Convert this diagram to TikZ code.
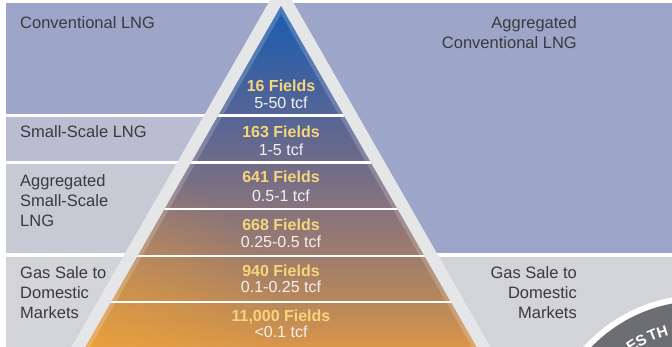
\documentclass[tikz,border=0pt]{standalone}
\usepackage{fontspec}
\setmainfont{Liberation Sans}
\usetikzlibrary{calc,fadings}
\definecolor{peri}{HTML}{9DA6C8}
\definecolor{sslng}{HTML}{B9BDD1}
\definecolor{aggss}{HTML}{C7C9D4}
\definecolor{gassale}{HTML}{D3D4D7}
\definecolor{band}{HTML}{E5E6E8}
\definecolor{labeltxt}{HTML}{3A3A3E}
\definecolor{fieldyel}{HTML}{F6D67A}
\definecolor{tcfwhite}{HTML}{F2F2F2}
\definecolor{disc}{HTML}{6D6E71}
\definecolor{glow}{HTML}{F5A834}
\definecolor{pc0}{HTML}{D8964A}
\definecolor{pc1}{HTML}{C48C55}
\definecolor{pc2}{HTML}{AC8262}
\definecolor{pc3}{HTML}{967973}
\definecolor{pc4}{HTML}{827280}
\definecolor{pc5}{HTML}{706C88}
\definecolor{pc6}{HTML}{5C6791}
\definecolor{pc7}{HTML}{48629B}
\definecolor{pc8}{HTML}{2A5FA8}
\definecolor{pc9}{HTML}{1D5DAC}
\pgfdeclareverticalshading{pyrshade}{100bp}{color(0bp)=(pc0); color(25bp)=(pc0); color(29bp)=(pc1); color(34.8bp)=(pc2); color(40.7bp)=(pc3); color(46.6bp)=(pc4); color(51.7bp)=(pc5); color(56.8bp)=(pc6); color(62.7bp)=(pc7); color(70bp)=(pc8); color(75bp)=(pc9); color(100bp)=(pc9)}
\tikzfading[name=glowfade, inner color=transparent!0, outer color=transparent!100]
\begin{document}
\begin{tikzpicture}[x=1pt,y=1pt,
  lbl/.style={text=labeltxt,inner sep=0pt,font=\fontsize{16.5}{20}\selectfont},
  cnt/.style={text=fieldyel,inner sep=0pt,anchor=base,font=\fontsize{16}{17}\selectfont\bfseries},
  rng/.style={text=tcfwhite,inner sep=0pt,anchor=base,font=\fontsize{16}{17}\selectfont},
  tierline/.style={white,line width=2.2pt},
  discletter/.style={text=white,inner sep=0pt,font=\fontsize{15}{15}\selectfont\bfseries}]
\useasboundingbox (0,0) rectangle (672,347);
\clip (0,0) rectangle (672,347);
\fill[white] (0,0) rectangle (672,347);
% left panels
\fill[peri] (6,232.7) rectangle (281,343.5);
\fill[sslng] (6,185.8) rectangle (281,230.3);
\fill[aggss] (6,93.7) rectangle (281,183);
\fill[gassale] (6,0) rectangle (281,90);
% right panels
\fill[peri] (281,93.7) rectangle (672,343.5);
\fill[gassale] (281,0) rectangle (672,90);
% band
\fill[band] (281,366) -- (71.5,0) -- (490.5,0) -- cycle;
% pyramid
\shade[shading=pyrshade] (281,341) -- (85.5,0) -- (476.5,0) -- cycle;
\begin{scope}
\clip (281,341) -- (85.5,0) -- (476.5,0) -- cycle;
\fill[glow,fill opacity=0.6,path fading=glowfade] (-110,-210) rectangle (290,190);
\end{scope}
\fill[white,opacity=0.18,even odd rule] (281,341) -- (85.5,0) -- (476.5,0) -- cycle (281,333) -- (90.1,0) -- (471.9,0) -- cycle;
\begin{scope}
\clip (281,341) -- (85.5,0) -- (476.5,0) -- cycle;
\foreach \yy in {231.4,184.5,138.3,91.2,45.2}
  \draw[tierline] (60,\yy) -- (500,\yy);
\end{scope}
% disc
\fill[white] (700,-105) circle (157);
\fill[disc] (700,-105) circle (151);
\foreach \ang/\ch/\nm in {122.6/E/dl1,117.9/S/dl2,112.2/T/dl3,107.4/H/dl4}
  \node[discletter,rotate=\ang-90] (\nm) at ($(700,-105)+(\ang:126)$) {\ch};
% left labels
\node[lbl,anchor=base west] (conv) at (20,318) {Conventional LNG};
\node[lbl,anchor=base west] (small) at (20,209) {Small-Scale LNG};
\node[lbl,anchor=north west,align=left] (aggsmall) at (20,172.8) {Aggregated\\Small-Scale\\LNG};
\node[lbl,anchor=north west,align=left] (gasleft) at (20,80.8) {Gas Sale to\\Domestic\\Markets};
% right labels
\node[lbl,anchor=north east,align=right] (aggconv) at (577,330.8) {Aggregated\\Conventional LNG};
\node[lbl,anchor=north east,align=right] (gasright) at (577,80.8) {Gas Sale to\\Domestic\\Markets};
% pyramid labels
\node[cnt] (f1) at (281,255) {16 Fields};
\node[rng] (r1) at (281,238) {5-50 tcf};
\node[cnt] (f2) at (281,209) {163 Fields};
\node[rng] (r2) at (281,191) {1-5 tcf};
\node[cnt] (f3) at (281,164) {641 Fields};
\node[rng] (r3) at (281,145) {0.5-1 tcf};
\node[cnt] (f4) at (281,116) {668 Fields};
\node[rng] (r4) at (281,99) {0.25-0.5 tcf};
\node[cnt] (f5) at (281,70) {940 Fields};
\node[rng] (r5) at (281,54) {0.1-0.25 tcf};
\node[cnt] (f6) at (281,25) {11,000 Fields};
\node[rng] (r6) at (281,9) {<0.1 tcf};
\end{tikzpicture}
\end{document}
